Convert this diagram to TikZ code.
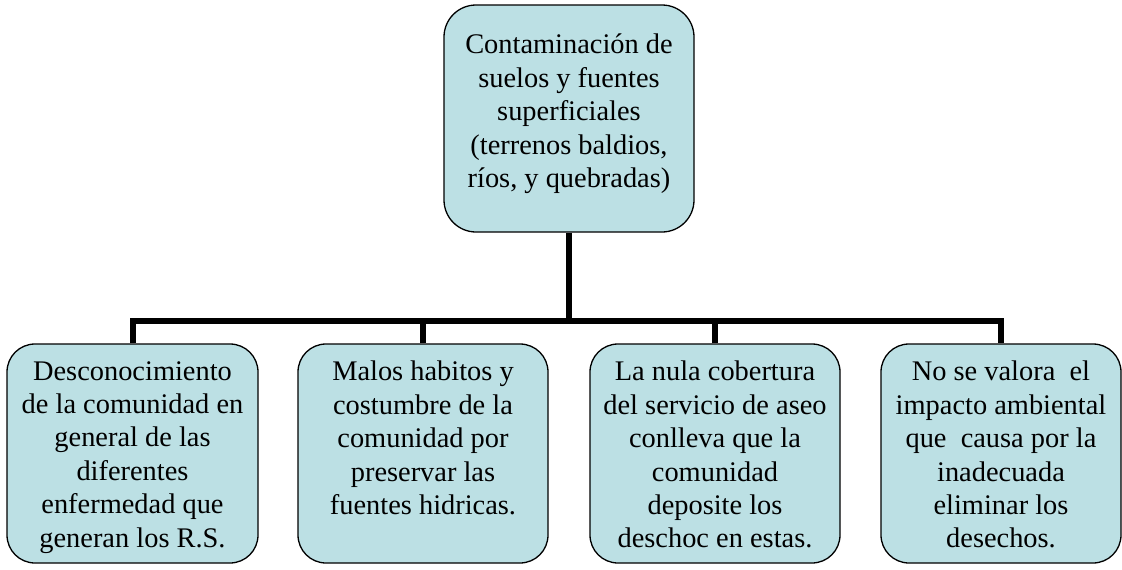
\documentclass[tikz,border=0pt]{standalone}
\usepackage{fontspec}
\setmainfont{Liberation Serif}
\definecolor{boxfill}{RGB}{188,224,228}
\begin{document}
\begin{tikzpicture}[x=1pt,y=-1pt,
  boxst/.style={draw=black, line width=1.3pt, fill=boxfill, rounded corners=28pt, inner sep=0pt},
  txt/.style={align=center, inner sep=0pt, anchor=north, font=\fontsize{28.4}{33.4}\selectfont},
  conn/.style={line width=6pt, line join=miter, line cap=butt}]
\useasboundingbox (0,0) rectangle (1122,570);
% boxes
\node[boxst, minimum width=250pt, minimum height=227pt, rounded corners=32pt] (top) at (569,118.5) {};
\node[boxst, minimum width=251pt, minimum height=219pt] (b1) at (132.5,453.5) {};
\node[boxst, minimum width=250pt, minimum height=219pt] (b2) at (423,453.5) {};
\node[boxst, minimum width=250pt, minimum height=219pt] (b3) at (715,453.5) {};
\node[boxst, minimum width=240pt, minimum height=219pt] (b4) at (1001,453.5) {};
% texts
\node[txt] (ttop) at (569,34) {Contaminación de\\suelos y fuentes\\superficiales\\(terrenos baldios,\\ríos, y quebradas)};
\node[txt] (t1) at (132.5,361) {Desconocimiento\\de la comunidad en\\general de las\\diferentes\\enfermedad que\\generan los R.S.};
\node[txt] (t2) at (423,361) {Malos habitos y\\costumbre de la\\comunidad por\\preservar las\\fuentes hidricas.};
\node[txt] (t3) at (715,361) {La nula cobertura\\del servicio de aseo\\conlleva que la\\comunidad\\deposite los\\deschoc en estas.};
\node[txt] (t4) at (1001,361) {No se valora\ \ el\\impacto ambiental\\que\ \ causa por la\\inadecuada\\eliminar los\\desechos.};
% connectors
\coordinate (bar) at (569,321);
\draw[conn] (top.south) -- (bar);
\draw[conn] (b1.north) |- (bar) -| (b4.north);
\draw[conn] (b2.north) -- (b2.north |- bar);
\draw[conn] (b3.north) -- (b3.north |- bar);
\end{tikzpicture}
\end{document}
